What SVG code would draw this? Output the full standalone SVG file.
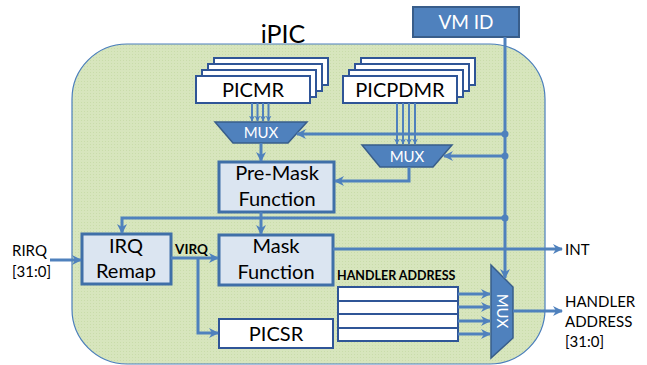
<svg xmlns="http://www.w3.org/2000/svg" width="647" height="365" viewBox="0 0 647 365">
<defs>
<style>
.t{font-family:Lato,"Liberation Sans",sans-serif;fill:#000}
.c{stroke:#4f81bd;stroke-width:3;fill:none}
.thin{stroke:#4f81bd;stroke-width:2;fill:none}
.reg{fill:#fff;stroke:#2f5597;stroke-width:2}
.fn{fill:#dbe5f1;stroke:#3f6fa8;stroke-width:3}
.mux{fill:#4f81bd;stroke:#385d8a;stroke-width:1.5}
.mt{font-family:Lato,"Liberation Sans",sans-serif;fill:#fff;font-size:15px}
</style>
<pattern id="dots" width="3" height="3" patternUnits="userSpaceOnUse">
<rect width="3" height="3" fill="#d7e5bd"/>
<rect width="1" height="1" fill="#c9dcaa"/>
</pattern>
<pattern id="bdots" width="3" height="3" patternUnits="userSpaceOnUse">
<rect width="3" height="3" fill="#dde7f3"/>
<rect width="1" height="1" fill="#c8d6ea"/>
</pattern>
<marker id="ah" viewBox="0 0 10 10" refX="9" refY="5" markerWidth="10" markerHeight="10" markerUnits="userSpaceOnUse" orient="auto">
<path d="M0,0 L10,5 L0,10 L3,5 z" fill="#4f81bd"/>
</marker>
<marker id="as" viewBox="0 0 10 10" refX="9" refY="5" markerWidth="6" markerHeight="6" markerUnits="userSpaceOnUse" orient="auto">
<path d="M0,0 L10,5 L0,10 L3,5 z" fill="#4f81bd"/>
</marker>
</defs>

<g id="ipic">
<rect x="72" y="44" width="473" height="320" rx="55" ry="55" fill="url(#dots)" stroke="#4a7ebb" stroke-width="1.2"/>
<text class="t" x="283" y="43" font-size="25" text-anchor="middle">iPIC</text>
</g>

<g id="vmid">
<rect x="413" y="7" width="106" height="30" fill="#4f81bd" stroke="#385d8a" stroke-width="2"/>
<text x="466" y="29" font-family="Lato,'Liberation Sans',sans-serif" font-size="19" fill="#fff" text-anchor="middle">VM ID</text>
</g>

<g id="picmr">
<rect class="reg" x="214" y="58" width="114" height="27"/>
<rect class="reg" x="208" y="64" width="114" height="27"/>
<rect class="reg" x="202" y="70" width="114" height="27"/>
<rect class="reg" x="196" y="76" width="114" height="27"/>
<text class="t" x="253" y="97" font-size="20" text-anchor="middle">PICMR</text>
</g>

<g id="picpdmr">
<rect class="reg" x="361" y="58" width="114" height="27"/>
<rect class="reg" x="355" y="64" width="114" height="27"/>
<rect class="reg" x="349" y="70" width="114" height="27"/>
<rect class="reg" x="343" y="76" width="114" height="27"/>
<text class="t" x="400" y="97" font-size="20" text-anchor="middle">PICPDMR</text>
</g>

<g id="mux1">
<polygon class="mux" points="215,122 307,122 288,143 233,143"/>
<text class="mt" x="261" y="138" text-anchor="middle">MUX</text>
</g>

<g id="mux2">
<polygon class="mux" points="362,145 452,145 433,167 380,167"/>
<text class="mt" x="407" y="162" text-anchor="middle">MUX</text>
</g>

<g id="premask">
<rect class="fn" x="219" y="162" width="115" height="50" fill="url(#bdots)"/>
<text class="t" x="277" y="180" font-size="20" text-anchor="middle">Pre-Mask</text>
<text class="t" x="277" y="206" font-size="20" text-anchor="middle">Function</text>
</g>

<g id="irqremap">
<rect class="fn" x="82" y="234" width="89" height="50" fill="url(#bdots)"/>
<text class="t" x="126" y="253" font-size="20" text-anchor="middle">IRQ</text>
<text class="t" x="126" y="278" font-size="20" text-anchor="middle">Remap</text>
</g>

<g id="mask">
<rect class="fn" x="219" y="235" width="114" height="50" fill="url(#bdots)"/>
<text class="t" x="276" y="253" font-size="20" text-anchor="middle">Mask</text>
<text class="t" x="276" y="279" font-size="20" text-anchor="middle">Function</text>
</g>

<g id="picsr">
<rect class="reg" x="219" y="319" width="114" height="29"/>
<text class="t" x="276" y="341" font-size="20" text-anchor="middle">PICSR</text>
</g>

<g id="handler">
<text class="t" x="337" y="280" font-size="12.5" font-weight="bold">HANDLER ADDRESS</text>
<rect class="reg" x="338" y="287" width="120" height="54"/>
<line x1="338" y1="301" x2="458" y2="301" stroke="#2f5597" stroke-width="2"/>
<line x1="338" y1="314" x2="458" y2="314" stroke="#2f5597" stroke-width="2"/>
<line x1="338" y1="328" x2="458" y2="328" stroke="#2f5597" stroke-width="2"/>
</g>

<g id="mux3">
<polygon class="mux" points="491,265 513,287 513,338 491,358"/>
<text class="mt" x="0" y="0" text-anchor="middle" transform="translate(497,311) rotate(90)">MUX</text>
</g>

<g id="labels">
<text class="t" x="12" y="256" font-size="15">RIRQ</text>
<text class="t" x="12" y="277" font-size="15">[31:0]</text>
<text class="t" x="175" y="254" font-size="13.5" font-weight="bold">VIRQ</text>
<text class="t" x="565" y="255" font-size="15">INT</text>
<text class="t" x="565" y="307" font-size="15">HANDLER</text>
<text class="t" x="565" y="327" font-size="15">ADDRESS</text>
<text class="t" x="565" y="347" font-size="15">[31:0]</text>
</g>

<g id="connectors">
<line class="c" x1="505" y1="37" x2="505" y2="278" marker-end="url(#ah)"/>
<line class="c" x1="505" y1="134" x2="297" y2="134" marker-end="url(#ah)"/>
<line class="c" x1="505" y1="156" x2="444" y2="156" marker-end="url(#ah)"/>
<polyline class="c" points="505,218 122,218 122,233" marker-end="url(#ah)"/>
<circle cx="505" cy="134" r="3.5" fill="#4f81bd"/>
<circle cx="505" cy="156" r="3.5" fill="#4f81bd"/>
<circle cx="505" cy="218" r="3.5" fill="#4f81bd"/>

<line class="thin" x1="252" y1="103" x2="252" y2="121" marker-end="url(#as)"/>
<line class="thin" x1="257.5" y1="103" x2="257.5" y2="121" marker-end="url(#as)"/>
<line class="thin" x1="263" y1="103" x2="263" y2="121" marker-end="url(#as)"/>
<line class="thin" x1="268.5" y1="103" x2="268.5" y2="121" marker-end="url(#as)"/>

<line class="thin" x1="397" y1="103" x2="397" y2="144" marker-end="url(#as)"/>
<line class="thin" x1="403" y1="103" x2="403" y2="144" marker-end="url(#as)"/>
<line class="thin" x1="409" y1="103" x2="409" y2="144" marker-end="url(#as)"/>
<line class="thin" x1="415" y1="103" x2="415" y2="144" marker-end="url(#as)"/>

<line class="c" x1="261" y1="143" x2="261" y2="161" marker-end="url(#ah)"/>
<polyline class="c" points="409,167 409,181 335,181" marker-end="url(#ah)"/>
<line class="c" x1="261" y1="212" x2="261" y2="234" marker-end="url(#ah)"/>

<line class="c" x1="50" y1="260" x2="81" y2="260" marker-end="url(#ah)"/>
<line class="c" x1="171" y1="258" x2="218" y2="258" marker-end="url(#ah)"/>
<polyline class="c" points="198,258 198,333 218,333" marker-end="url(#ah)"/>
<line class="c" x1="333" y1="249" x2="562" y2="249" marker-end="url(#ah)"/>

<line class="c" x1="458" y1="294" x2="490" y2="294" marker-end="url(#ah)"/>
<line class="c" x1="458" y1="307" x2="490" y2="307" marker-end="url(#ah)"/>
<line class="c" x1="458" y1="321" x2="490" y2="321" marker-end="url(#ah)"/>
<line class="c" x1="458" y1="334" x2="490" y2="334" marker-end="url(#ah)"/>
<line class="c" x1="513" y1="311" x2="562" y2="311" marker-end="url(#ah)"/>
</g>
</svg>
